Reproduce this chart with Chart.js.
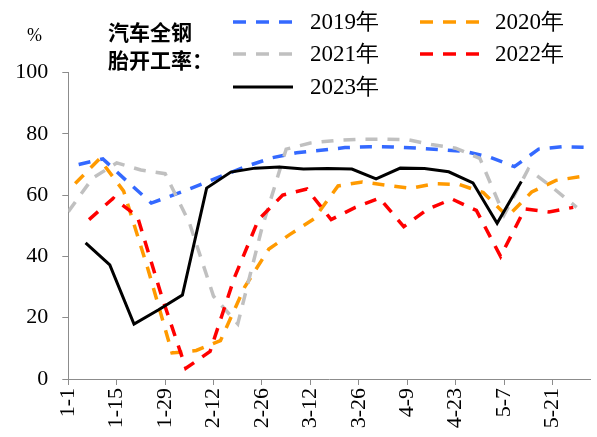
<!DOCTYPE html>
<html>
<head>
<meta charset="utf-8">
<script src="https://cdn.jsdelivr.net/npm/chart.js@4.4.1/dist/chart.umd.min.js"></script>
<style>
html, body { margin:0; padding:0; background:#fff; }
#wrap { width:597px; height:437px; position:relative; }
</style>
</head>
<body>
<div id="wrap"><canvas id="myChart"></canvas></div>
<script>
// x轴标签（每两周一个）
var xLabels = ['1-1','1-15','1-29','2-12','2-26','3-12','3-26','4-9','4-23','5-7','5-21'];
var years = ['2019年','2020年','2021年','2022年','2023年'];

// 每年第一个周五（周度数据）
var start2019 = [2019, 1, 4];
var start2020 = [2020, 1, 3];
var start2021 = [2021, 1, 1];
var start2022 = [2022, 1, 7];
var start2023 = [2023, 1, 6];

// 汽车全钢胎开工率 %
var v2019 = [70.0, 71.8, 64.5, 57.4, 60.3, 63.3, 66.5, 69.6, 72.2, 73.8, 74.6, 75.5, 75.8, 75.7, 75.3, 74.8, 74.2, 72.3, 69.3, 75.0, 75.8, 75.6];
var v2020 = [63.8, 71.8, 61.3, 36.0, 8.5, 9.3, 12.5, 30.0, 42.4, 47.1, 52.2, 63.0, 64.3, 63.2, 62.2, 63.7, 63.5, 60.8, 53.0, 61.0, 64.8, 66.0];
var v2021 = [54.6, 65.5, 70.5, 68.2, 67.0, 51.0, 27.0, 18.0, 49.3, 75.0, 77.0, 77.8, 78.2, 78.2, 78.1, 76.5, 75.3, 72.0, 53.5, 68.5, 62.5, 56.0];
var v2022 = [52.0, 59.0, 53.0, 27.0, 3.5, 9.0, 33.0, 52.0, 60.0, 62.0, 52.0, 56.0, 59.0, 49.7, 55.5, 58.7, 55.0, 40.0, 55.5, 54.5, 56.0];
var v2023 = [44.4, 37.2, 17.9, 22.5, 27.4, 62.3, 67.5, 68.8, 69.2, 68.5, 68.7, 68.5, 65.3, 68.8, 68.7, 67.6, 64.0, 50.8, 64.4];

// 日期 -> 当年第几天（按月-日放到同一坐标上）
var base = Date.UTC(2023, 0, 1);
function toPoints(start, vals) {
	var out = [];
	for (var i = 0; i < vals.length; i++) {
		var d = new Date(Date.UTC(start[0], start[1] - 1, start[2] + 7 * i));
		var x = (Date.UTC(2023, d.getUTCMonth(), d.getUTCDate()) - base) / 86400000;
		out.push({x: x, y: vals[i]});
	}
	return out;
}

var serif = '"Liberation Serif", "Times New Roman", serif';

function line(label, pts, color, dash, width, order) {
	return {
		label: label,
		data: pts,
		borderColor: color,
		backgroundColor: color,
		borderWidth: width,
		borderDash: dash,
		borderCapStyle: 'butt',
		pointRadius: 0,
		tension: 0,
		fill: false,
		order: order
	};
}

var datasets = [
	line(years[0], toPoints(start2019, v2019), '#3469FF', [12, 10], 3.5, 4),
	line(years[1], toPoints(start2020, v2020), '#FF9A00', [12, 10], 3.5, 3),
	line(years[2], toPoints(start2021, v2021), '#C0C0C0', [12, 10], 3.5, 2),
	line(years[3], toPoints(start2022, v2022), '#FF0000', [12, 10], 3.5, 1),
	line(years[4], toPoints(start2023, v2023), '#000000', [], 3, 0)
];

// 图例（左上标题 + 两列）
var legendPlugin = {
	id: 'myLegend',
	afterDraw: function(chart) {
		var ctx = chart.ctx;
		ctx.save();
		ctx.fillStyle = '#000';
		ctx.textBaseline = 'middle';
		ctx.textAlign = 'left';
		ctx.font = 'bold 21px "Noto Sans CJK SC"';
		ctx.fillText('汽车全钢', 108, 32);
		ctx.fillText('胎开工率：', 108, 60);
		ctx.font = '18px ' + serif;
		ctx.fillText('%', 27, 36);

		var pos = [[233, 22], [420, 22], [233, 54], [420, 54], [233, 87]];
		ctx.font = '23px ' + serif;
		chart.data.datasets.forEach(function(ds, i) {
			var p = pos[i];
			ctx.beginPath();
			ctx.strokeStyle = ds.borderColor;
			ctx.lineWidth = ds.borderWidth;
			ctx.setLineDash(ds.borderDash.length ? [13, 10] : []);
			ctx.moveTo(p[0], p[1]);
			ctx.lineTo(p[0] + 60, p[1]);
			ctx.stroke();
			ctx.setLineDash([]);
			ctx.fillText(ds.label, p[0] + (i % 2 == 0 ? 77 : 75), p[1] + 1);
		});
		ctx.restore();
	}
};

var ctx1 = document.getElementById('myChart').getContext('2d');
new Chart(ctx1, {
	type: 'line',
	data: { datasets: datasets },
	plugins: [legendPlugin],
	options: {
		responsive: true,
		maintainAspectRatio: false,
		animation: false,
		layout: { padding: { top: 72.5, right: 6.5, left: 0, bottom: 0 } },
		plugins: {
			legend: { display: false },
			tooltip: { enabled: false }
		},
		scales: {
			x: {
				type: 'linear',
				min: 0,
				max: 151,
				afterFit: function(s) { s.height = 58; },
				border: { display: true, color: '#8c8c8c', width: 1 },
				grid: { drawOnChartArea: false, drawTicks: true, tickLength: 6, color: '#8c8c8c' },
				ticks: {
					stepSize: 14,
					includeBounds: false,
					autoSkip: false,
					minRotation: 90,
					maxRotation: 90,
					padding: 3,
					color: '#000',
					font: { family: serif, size: 22 },
					callback: function(v) { return xLabels[Math.round(v / 14)]; }
				}
			},
			y: {
				min: 0,
				max: 100,
				afterFit: function(s) { s.width = 68.3; },
				border: { display: true, color: '#8c8c8c', width: 1 },
				grid: { drawOnChartArea: false, drawTicks: true, tickLength: 6, color: '#8c8c8c' },
				ticks: {
					stepSize: 20,
					padding: 14,
					color: '#000',
					font: { family: serif, size: 22 }
				}
			}
		}
	}
});
</script>
</body>
</html>
